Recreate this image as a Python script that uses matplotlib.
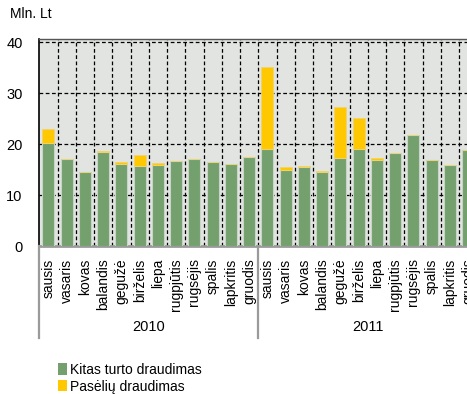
import matplotlib
matplotlib.use("Agg")
import matplotlib.pyplot as plt
from matplotlib import font_manager
from matplotlib.patches import Patch
import matplotlib.transforms as mtransforms

# Pick a condensed sans face when it is available
_names = {f.name for f in font_manager.fontManager.ttflist}
if "Liberation Sans Narrow" in _names:
    FAMILY = ["Liberation Sans Narrow", "DejaVu Sans"]
    FS = 11.5
else:
    FAMILY = ["Liberation Sans", "DejaVu Sans"]
    FS = 10
plt.rcParams["font.family"] = FAMILY

months = ["sausis", "vasaris", "kovas", "balandis", "gegužė", "birželis",
          "liepa", "rugpjūtis", "rugsėjis", "spalis", "lapkritis", "gruodis"]
years = ["2010", "2011"]

# Mln. Lt per month
other_property_2010 = [20.3, 17.1, 14.5, 18.5, 16.2, 15.8, 15.9, 16.7, 17.1, 16.5, 16.1, 17.5]
crop_2010 = [2.6, 0.0, 0.0, 0.1, 0.2, 2.1, 0.4, 0.0, 0.0, 0.0, 0.0, 0.0]
other_property_2011 = [19.0, 15.0, 15.6, 14.6, 17.3, 19.0, 16.8, 18.2, 21.8, 16.8, 16.0, 18.9]
crop_2011 = [16.1, 0.5, 0.1, 0.1, 9.9, 6.1, 0.5, 0.1, 0.0, 0.0, 0.0, 0.0]

series_labels = ["Kitas turto draudimas", "Pasėlių draudimas"]
green = "#73A06D"
yellow = "#FFC800"

labels = months * len(years)
other = other_property_2010 + other_property_2011
crop = crop_2010 + crop_2011
x = list(range(len(labels)))

W, H = 467, 394
fig = plt.figure(figsize=(W / 100, H / 100), dpi=100)
ax = fig.add_axes([39.3 / W, (H - 246) / H, 438 / W, 207 / H])
ax.set_facecolor("#E1E4E1")

ax.bar(x, other, width=0.66, color=green, edgecolor="#C9D3C8", linewidth=0.8, zorder=3)
ax.bar(x, crop, width=0.66, bottom=other, color=yellow, edgecolor="#F2D36A",
       linewidth=0.6, zorder=3)

ax.set_xlim(-0.5, len(labels) - 0.5)
ax.set_ylim(0, 40.65)
ax.set_yticks([0, 10, 20, 30, 40])
ax.tick_params(axis="y", length=0, pad=12, labelsize=FS + 0.5)

# dashed grid behind the bars
for yv in [10, 20, 30, 40]:
    ax.axhline(yv, color="black", linestyle=(0, (3, 2)), linewidth=0.9, zorder=1)
for xv in x[:-1]:
    ax.axvline(xv + 0.5, color="black", linestyle=(0, (3, 2)), linewidth=0.9, zorder=1)

ax.set_xticks(x)
ax.set_xticklabels(labels, rotation=90, va="top", ha="center", fontsize=FS)
ax.tick_params(axis="x", length=0, pad=9)

for side in ["right"]:
    ax.spines[side].set_visible(False)
ax.spines["top"].set_color("#555555")
ax.spines["top"].set_linewidth(1.0)
ax.spines["left"].set_color("black")
ax.spines["left"].set_linewidth(1.2)
ax.spines["bottom"].set_color("#9A9A9A")
ax.spines["bottom"].set_linewidth(2.0)

# year grouping below the month names
trans = mtransforms.blended_transform_factory(ax.transData, ax.transAxes)
y_low = -(338 - 246) / 207
for i in range(len(years) + 1):
    xb = i * len(months) - 0.5
    ax.plot([xb, xb], [0, y_low], transform=trans, color="#9A9A9A",
            linewidth=1.6, clip_on=False, zorder=5)
for i, yr in enumerate(years):
    ax.text(i * len(months) + (len(months) - 1) / 2, -(327 - 246) / 207, yr,
            transform=trans, ha="center", va="center", fontsize=FS + 0.5)

fig.text(10 / W, 1 - 14 / H, "Mln. Lt", ha="left", va="center", fontsize=FS)

handles = [Patch(facecolor=green, edgecolor="none"),
           Patch(facecolor=yellow, edgecolor="none")]
fig.legend(handles, series_labels, loc="upper left",
           bbox_to_anchor=(48 / W, 1 - 353 / H), frameon=False,
           fontsize=FS, handlelength=0.7, handleheight=0.9, handletextpad=0.2,
           labelspacing=0.2, borderpad=0.2)

fig.savefig("out.png", dpi=100)
